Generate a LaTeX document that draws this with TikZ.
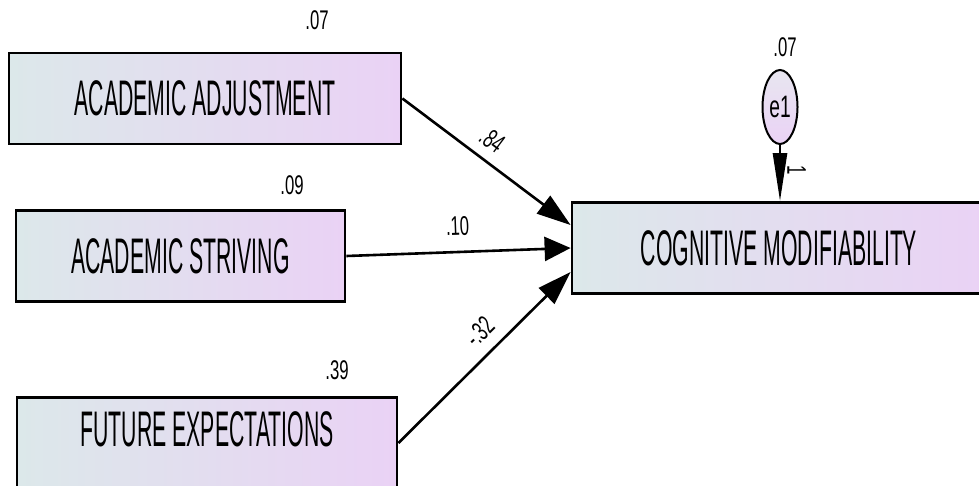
\documentclass[tikz,border=0pt]{standalone}
\usepackage{fontspec}
\setmainfont{Liberation Sans}
\newfontfamily\boxfont{Liberation Sans}[FakeStretch=0.425]
\newfontfamily\numfont{Liberation Sans}[FakeStretch=0.62]
\usepackage{tikz}
\usetikzlibrary{arrows.meta,shapes.geometric,positioning}
\usepackage{xcolor}
\definecolor{amosgrey}{RGB}{220,232,234}
\definecolor{amoslilac}{RGB}{234,210,245}
\definecolor{amostop}{RGB}{232,230,240}
\tikzstyle{obsvar} = [rectangle, draw=black, line width=2.8pt, left color=amosgrey, right color=amoslilac, text centered, inner sep=0pt, minimum height=91pt, font=\boxfont\fontsize{50}{54}\selectfont]
\tikzstyle{errvar} = [ellipse, draw=black, line width=2pt, top color=amostop, bottom color=amoslilac, minimum width=35pt, minimum height=74pt, inner sep=0pt, font=\numfont\fontsize{31}{33}\selectfont]
\tikzstyle{coef} = [font=\numfont\fontsize{27}{29}\selectfont, inner sep=1pt]
\tikzstyle{regarrow} = [line width=2.6pt, -{Triangle[length=34pt,width=22pt]}]

\begin{document}
\begin{tikzpicture}[x=1pt, y=-1pt]
\useasboundingbox (0,0) rectangle (979,485);
\clip (0,0) rectangle (979,485);

% Predictors
\node[obsvar, minimum width=392pt, label={[coef, xshift=112pt, label distance=21pt]above:.07}] (adj) at (205,98.5) {ACADEMIC ADJUSTMENT};
\node[obsvar, minimum width=329pt, label={[coef, xshift=111.5pt, label distance=13pt]above:.09}] (striv) at (180.5,256) {ACADEMIC STRIVING};
\node[obsvar, minimum width=380pt, text height=48pt, text depth=42pt, label={[coef, xshift=130pt, label distance=15pt]above:.39}] (fut) at (207,443) {FUTURE EXPECTATIONS};

% Outcome and its error
\node[obsvar, minimum width=414pt] (cog) at (779,248) {COGNITIVE MODIFIABILITY};
\node[errvar, label={[coef, xshift=5pt, label distance=11pt]above:.07}] (e1) at (780,107) {e1};

% Paths
\draw[regarrow] (adj.east) -- ([yshift=23pt]cog.west) node[coef, pos=0.46, sloped, above=9pt] {.84};
\draw[regarrow, -{Triangle[length=26pt,width=24pt]}] (striv.east) -- (cog.west) node[coef, pos=0.5, sloped, above=14pt] {.10};
\draw[regarrow] (fut.east) -- ([yshift=-24pt]cog.west) node[coef, pos=0.56, sloped, above=10pt] {-.32};
\draw[regarrow, -{Triangle[length=48pt,width=14pt]}] (e1) -- (e1 |- cog.north) node[coef, pos=0.45, anchor=south, rotate=-90, inner sep=6pt] {1};
\end{tikzpicture}
\end{document}
